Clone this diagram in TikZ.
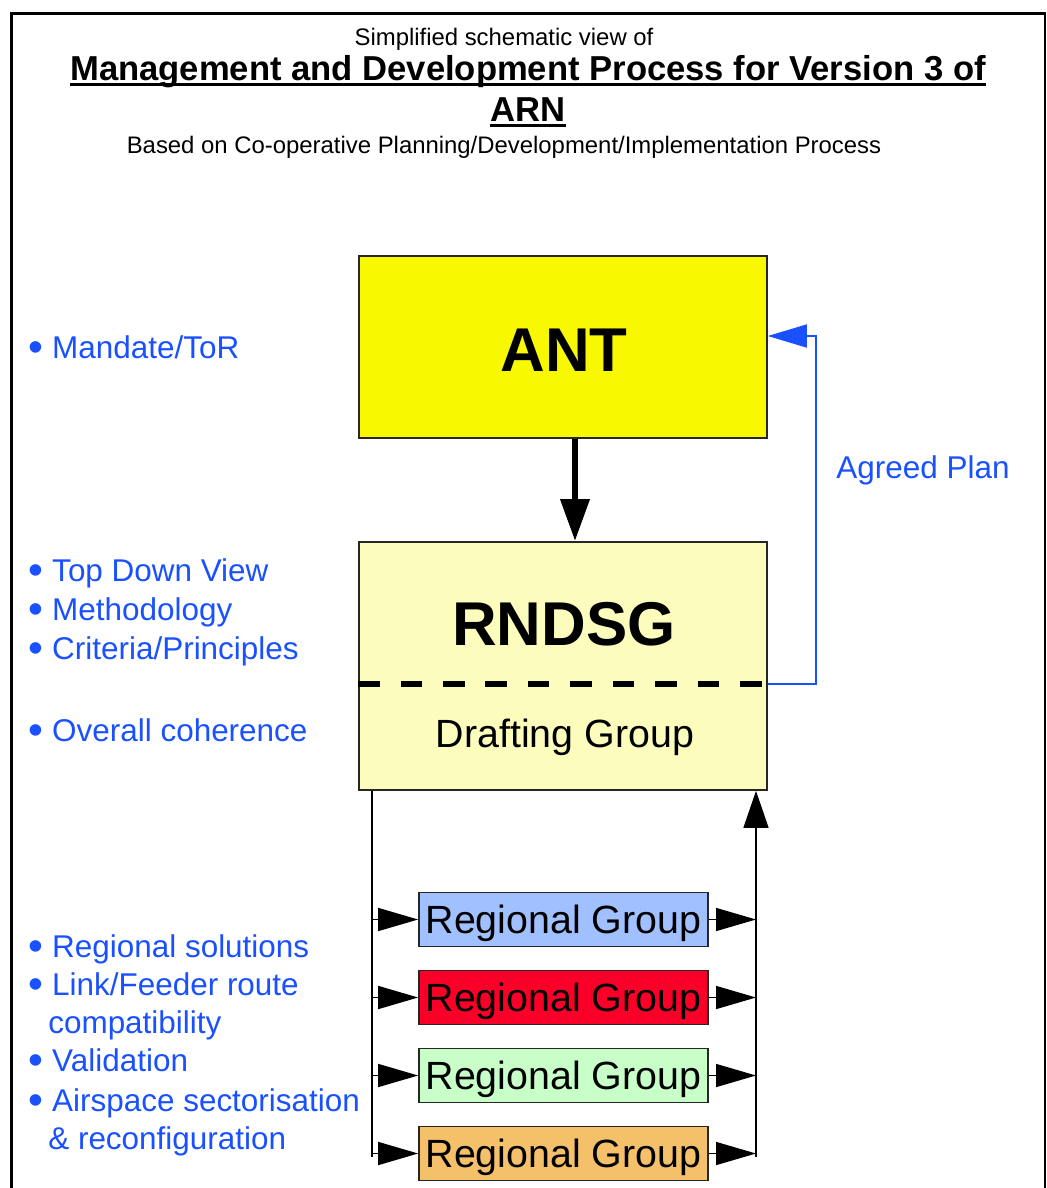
\documentclass[tikz,border=0pt]{standalone}
\usepackage{fontspec}
\setmainfont{Liberation Sans}
\usepackage{tikz}
\usetikzlibrary{arrows.meta}

\definecolor{antyellow}{RGB}{248,248,0}
\definecolor{rndyellow}{RGB}{252,252,188}
\definecolor{noteblue}{RGB}{25,80,255}
\definecolor{rgblue}{RGB}{160,192,255}
\definecolor{rgred}{RGB}{250,0,40}
\definecolor{rggreen}{RGB}{200,255,200}
\definecolor{rgorange}{RGB}{245,192,106}

\newcommand{\bul}{\makebox[13.6pt][l]{\raisebox{-0.1em}{\scalebox{1.35}{\textbullet}}}}

\begin{document}
\begin{tikzpicture}[x=0.02cm,y=-0.02cm,
  box/.style={draw=black!85,line width=1pt,inner sep=0pt},
  rgbox/.style={box,minimum width=5.78cm,minimum height=1.08cm,text depth=0pt,
    font=\fontsize{22.4}{26}\selectfont},
  note/.style={anchor=base west,inner sep=0pt,text=noteblue,
    font=\fontsize{17.9}{22}\selectfont},
  head/.style={anchor=base,inner sep=0pt,font=\fontsize{19.7}{23}\selectfont\bfseries},
  uline/.style={line width=1.7pt},
  wire/.style={line width=0.85pt},
  rarr/.style={wire,-{Triangle[length=0.8cm,width=0.46cm]}}]
\useasboundingbox (0,0) rectangle (1047,1188);
% frame, open at the bottom
\draw[line width=1.7pt] (11.5,1188) -- (11.5,13) -- (1045,13) -- (1045,1188);

% heading
\node[anchor=base,inner sep=0pt,font=\fontsize{13.6}{16}\selectfont] (sub) at (504,45) {Simplified schematic view of};
\node[head] (ttl) at (528,80) {Management and Development Process for Version 3 of};
\node[head] (arn) at (528,121) {ARN};
\draw[uline] ([yshift=-2.4pt]ttl.base west) -- ([yshift=-2.4pt]ttl.base east);
\draw[uline] ([yshift=-2.6pt]arn.base west) -- ([yshift=-2.6pt]arn.base east);
\node[anchor=base,inner sep=0pt,font=\fontsize{13.6}{16}\selectfont] (based) at (504,153) {Based on Co-operative Planning/Development/Implementation Process};

% main boxes
\node[box,fill=antyellow,minimum width=8.16cm,minimum height=3.64cm] (ant) at (563,347) {};
\node[inner sep=0pt,font=\fontsize{35.2}{40}\selectfont\bfseries] (antt) at (564,350) {ANT};
\node[box,fill=rndyellow,minimum width=8.16cm,minimum height=4.96cm] (rndsg) at (563,666) {};
\node[inner sep=0pt,font=\fontsize{35.2}{40}\selectfont\bfseries] (rndsgt) at (564,624) {RNDSG};
\node[anchor=base,inner sep=0pt,font=\fontsize{22.4}{26}\selectfont] (draft) at (565,747) {Drafting Group};
\coordinate (split) at (563,684);
\draw[line width=3.8pt,dash pattern=on 12.3pt off 11.85pt] (split -| rndsg.west) -- (split -| rndsg.east);

\coordinate (dn) at (575,0);
\draw[line width=3.8pt,-{Triangle[length=0.84cm,width=0.56cm]}] (ant.south -| dn) -- (rndsg.north -| dn);

% feedback loop
\coordinate (fb) at (816,336);
\draw[noteblue,line width=0.85pt,-{Triangle[length=0.78cm,width=0.46cm]}] (split -| rndsg.east) -| (fb) -- (fb -| ant.east);
\node[anchor=base,inner sep=0pt,text=noteblue,font=\fontsize{17.9}{22}\selectfont] (plan) at (923,478) {Agreed Plan};

% regional groups
\node[rgbox,fill=rgblue] (rg1) at (563.5,919.5) {Regional Group};
\node[rgbox,fill=rgred] (rg2) at (563.5,997.5) {Regional Group};
\node[rgbox,fill=rggreen] (rg3) at (563.5,1075.5) {Regional Group};
\node[rgbox,fill=rgorange] (rg4) at (563.5,1153.5) {Regional Group};

\coordinate (lb) at (372,1157);
\coordinate (rb) at (756,1157);
\draw[wire] (rndsg.south -| lb) -- (lb);
\draw[wire,-{Triangle[length=0.74cm,width=0.5cm]}] (rb) -- (rb |- rndsg.south);
\draw[rarr] (lb |- rg1) -- (rg1.west);
\draw[rarr] (lb |- rg2) -- (rg2.west);
\draw[rarr] (lb |- rg3) -- (rg3.west);
\draw[rarr] (lb |- rg4) -- (rg4.west);
\draw[rarr] (rg1.east) -- (rg1 -| rb);
\draw[rarr] (rg2.east) -- (rg2 -| rb);
\draw[rarr] (rg3.east) -- (rg3 -| rb);
\draw[rarr] (rg4.east) -- (rg4 -| rb);

% notes on the left
\node[note] (n1) at (28,358) {\bul Mandate/ToR};
\node[note] (n2) at (28,581) {\bul Top Down View};
\node[note] (n3) at (28,620) {\bul Methodology};
\node[note] (n4) at (28,659) {\bul Criteria/Principles};
\node[note] (n5) at (28,741) {\bul Overall coherence};
\node[note] (n6) at (28,957) {\bul Regional solutions};
\node[note] (n7) at (28,995) {\bul Link/Feeder route};
\node[note] (n8) at (48,1033) {compatibility};
\node[note] (n9) at (28,1071) {\bul Validation};
\node[note] (n10) at (28,1111) {\bul Airspace sectorisation};
\node[note] (n11) at (48,1149) {\& reconfiguration};
\end{tikzpicture}
\end{document}
